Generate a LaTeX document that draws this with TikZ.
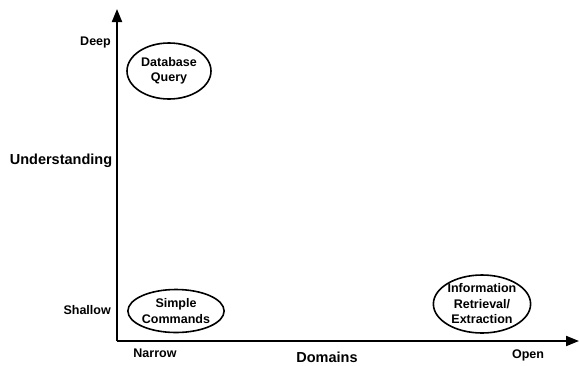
\documentclass[tikz,border=0pt]{standalone}
\usepackage{fontspec}
\setmainfont{Liberation Sans}
\usetikzlibrary{arrows.meta,shapes.geometric}
\begin{document}
\begin{tikzpicture}[x=1pt,y=-1pt,
  axis/.style={line width=2pt,-{Triangle[length=13pt,width=10pt]}},
  tick/.style={font=\fontsize{12.5}{15}\selectfont\bfseries,inner sep=0pt},
  title/.style={font=\fontsize{14.5}{17}\selectfont\bfseries,inner sep=0pt},
  area/.style={draw,ellipse,line width=1.6pt,inner sep=0pt,align=center,
    font=\fontsize{12.5}{15.5}\selectfont\bfseries}]
  \useasboundingbox (0,0) rectangle (579,365);
  % axes
  \coordinate (origin) at (117,341);
  \coordinate (ytop) at (117,9);
  \coordinate (xend) at (579,341);
  \draw[axis] (origin) -- (ytop);
  \draw[axis] (origin) -- (xend);
  % axis labels
  \node[tick,anchor=east] (deep) at (111,42) {Deep};
  \node[tick,anchor=east] (shallow) at (111,310) {Shallow};
  \node[title] (understanding) at (61,161) {Understanding};
  \node[tick] (narrow) at (155,353) {Narrow};
  \node[tick] (open) at (528,355) {Open};
  \node[title] (domains) at (327,357.5) {Domains};
  % application areas
  \node[area,minimum width=84pt,minimum height=56pt] (dbq) at (169,71) {Database\\Query};
  \node[area,minimum width=95pt,minimum height=43pt] (cmds) at (176,311) {Simple\\Commands};
  \node[area,minimum width=90pt,minimum height=58pt] (ir) at (482,304) {Information\\Retrieval/\\Extraction};
\end{tikzpicture}
\end{document}
